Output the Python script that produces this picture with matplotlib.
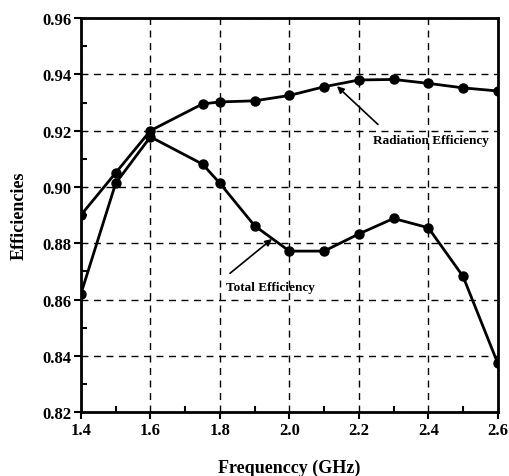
import matplotlib.pyplot as plt
from matplotlib.ticker import MultipleLocator

freq = [1.4, 1.5, 1.6, 1.75, 1.8, 1.9, 2.0, 2.1, 2.2, 2.3, 2.4, 2.5, 2.6]
radiation_eff = [0.890, 0.905, 0.920, 0.9295, 0.9302, 0.9306, 0.9325, 0.9356, 0.9380, 0.9382, 0.9368, 0.9352, 0.9341]
total_eff = [0.862, 0.9013, 0.9178, 0.9081, 0.9013, 0.8862, 0.8772, 0.8772, 0.8833, 0.8888, 0.8855, 0.8682, 0.8373]

plt.rcParams['font.family'] = ['Liberation Serif', 'DejaVu Serif']
plt.rcParams['font.weight'] = 'bold'

fig = plt.figure(figsize=(5.09, 4.77), dpi=100)
ax = fig.add_axes([0.159, 0.134, 0.819, 0.826])

ax.plot(freq, radiation_eff, color='black', lw=2, marker='o', ms=6.5, zorder=3)
ax.plot(freq, total_eff, color='black', lw=2, marker='o', ms=6.5, zorder=3)

ax.set_xlim(1.4, 2.6)
ax.set_ylim(0.82, 0.96)
ax.xaxis.set_major_locator(MultipleLocator(0.2))
ax.xaxis.set_minor_locator(MultipleLocator(0.1))
ax.yaxis.set_major_locator(MultipleLocator(0.02))
ax.yaxis.set_minor_locator(MultipleLocator(0.01))
ax.set_xticklabels([f'{v:.1f}' for v in ax.get_xticks()])
ax.set_yticklabels([f'{v:.2f}' for v in ax.get_yticks()])
ax.tick_params(which='major', direction='out', length=5, width=1.5, labelsize=12, pad=2)
ax.tick_params(which='minor', direction='in', length=4, width=1.5)
ax.grid(True, which='major', ls=(0, (5, 4)), color='black', lw=1)
for s in ax.spines.values():
    s.set_linewidth(2)

ax.set_xlabel('Frequenccy (GHz)', fontsize=13, fontweight='bold', labelpad=15)
ax.set_ylabel('Efficiencies', fontsize=13, fontweight='bold', labelpad=10)

ax.text(2.24, 0.9167, 'Radiation Efficiency', fontsize=9.5, fontweight='bold', va='center')
ax.annotate('', xy=(2.137, 0.9358), xytext=(2.255, 0.9222),
            arrowprops=dict(arrowstyle='-|>', color='black', lw=1.2, shrinkA=0, shrinkB=0))
ax.text(1.817, 0.8644, 'Total Efficiency', fontsize=9.5, fontweight='bold', va='center')
ax.annotate('', xy=(1.95, 0.8815), xytext=(1.829, 0.8693),
            arrowprops=dict(arrowstyle='-|>', color='black', lw=1.2, shrinkA=0, shrinkB=0))

fig.savefig('out.png', dpi=100)
